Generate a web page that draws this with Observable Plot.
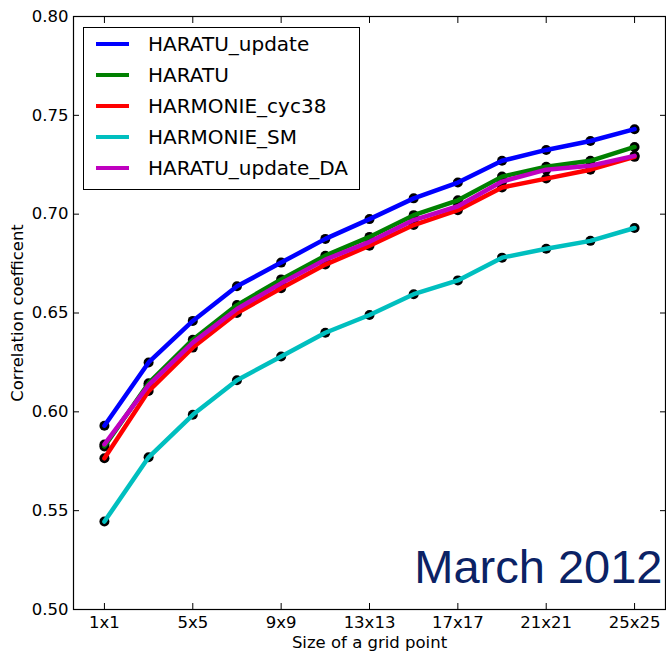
<!DOCTYPE html>
<html>
<head>
<meta charset="utf-8">
<script src="https://cdn.jsdelivr.net/npm/d3@7"></script>
<script src="https://cdn.jsdelivr.net/npm/@observablehq/plot@0.6"></script>
<style>
  body { margin: 0; background: #fff; }
  #wrap { position: relative; width: 666px; height: 654px; }
  #legend { position: absolute; left: 83px; top: 27px; width: 275px; height: 161px; border: 1px solid #000; background: #fff; font-family: "DejaVu Sans", sans-serif; font-size: 20px; color: #000; }
  .row { position: absolute; left: 0; height: 31px; width: 100%; }
  .swatch { position: absolute; left: 12px; width: 33px; height: 4px; }
  .lab { position: absolute; left: 64px; white-space: nowrap; line-height: 1; }
</style>
</head>
<body>
<div id="wrap"></div>
<script>
// ---- data ----
const gridSizes = ["1x1","3x3","5x5","7x7","9x9","11x11","13x13","15x15","17x17","19x19","21x21","23x23","25x25"];
const seriesNames = ["HARATU_update","HARATU","HARMONIE_cyc38","HARMONIE_SM","HARATU_update_DA"];
const seriesColors = ["#0000ff","#008000","#ff0000","#00bfbf","#bf00bf"];
const haratuUpdate   = [0.593, 0.625, 0.646, 0.6635, 0.6755, 0.6875, 0.6975, 0.708, 0.716, 0.727, 0.7325, 0.737, 0.743];
const haratu         = [0.5825, 0.6145, 0.6365, 0.654, 0.667, 0.679, 0.6885, 0.6995, 0.707, 0.719, 0.724, 0.727, 0.734];
const harmonieCyc38  = [0.5765, 0.6105, 0.6325, 0.650, 0.6625, 0.6745, 0.684, 0.6945, 0.702, 0.7135, 0.718, 0.7225, 0.729];
const harmonieSM     = [0.5445, 0.577, 0.5985, 0.616, 0.628, 0.640, 0.649, 0.6595, 0.6665, 0.678, 0.6825, 0.6865, 0.693];
const haratuUpdateDA = [0.5835, 0.6135, 0.635, 0.652, 0.665, 0.677, 0.686, 0.697, 0.704, 0.7165, 0.7225, 0.7245, 0.7295];
const xTickLabels = ["1x1","5x5","9x9","13x13","17x17","21x21","25x25"];
const yTicks = [0.50, 0.55, 0.60, 0.65, 0.70, 0.75, 0.80];
const periodLabel = "March 2012";

// ---- build table ----
const seriesValues = [haratuUpdate, haratu, harmonieCyc38, harmonieSM, haratuUpdateDA];
const rows = [];
seriesNames.forEach((name, s) => {
  seriesValues[s].forEach((v, i) => rows.push({series: name, i, v}));
});
const xTicks = xTickLabels.map(l => gridSizes.indexOf(l));

const font = "DejaVu Sans";
const chart = Plot.plot({
  width: 666,
  height: 654,
  marginLeft: 73,
  marginRight: 1,
  marginTop: 16,
  marginBottom: 45,
  style: {fontFamily: font, fontSize: "16.5px", color: "#000", background: "#fff"},
  x: {type: "linear", domain: [-0.7, 12.7]},
  y: {domain: [0.5, 0.8]},
  color: {domain: seriesNames, range: seriesColors},
  marks: [
    Plot.dot(rows, {x: "i", y: "v", r: 5, fill: "#000", stroke: "none"}),
    Plot.line(rows, {x: "i", y: "v", z: "series", stroke: "series", strokeWidth: 4.5}),
    Plot.text([periodLabel], {frameAnchor: "bottom-right", dx: -3, dy: -27, lineAnchor: "bottom", textAnchor: "end",
      fontSize: 47, fontFamily: "Liberation Sans", fill: "#0b2265"}),
    Plot.frame({stroke: "#000", strokeWidth: 1.2}),
    Plot.axisY({ticks: yTicks, tickSize: -6, tickPadding: 11, tickFormat: d3.format(".2f"), fontSize: 16.5,
      label: "Correlation coefficent", labelAnchor: "center", labelArrow: "none", labelOffset: 62}),
    Plot.axisY({anchor: "right", ticks: yTicks, tickSize: -6, tickFormat: () => "", label: null}),
    Plot.axisX({ticks: xTicks, tickSize: -6, tickPadding: 13, tickFormat: i => gridSizes[i], fontSize: 16.5,
      label: "Size of a grid point", labelAnchor: "center", labelArrow: "none", labelOffset: 38}),
    Plot.axisX({anchor: "top", ticks: xTicks, tickSize: -6, tickFormat: () => "", label: null})
  ]
});
const wrap = document.getElementById("wrap");
wrap.appendChild(chart);

// legend (inside the plot area, top-left)
const legend = document.createElement("div");
legend.id = "legend";
seriesNames.forEach((name, s) => {
  const row = document.createElement("div");
  row.className = "row";
  row.style.top = (1 + s * 31.1) + "px";
  const sw = document.createElement("div");
  sw.className = "swatch";
  sw.style.background = seriesColors[s];
  sw.style.top = "13px";
  const lab = document.createElement("div");
  lab.className = "lab";
  lab.style.top = "5px";
  lab.textContent = name;
  row.appendChild(sw); row.appendChild(lab);
  legend.appendChild(row);
});
wrap.appendChild(legend);
</script>
</body>
</html>
